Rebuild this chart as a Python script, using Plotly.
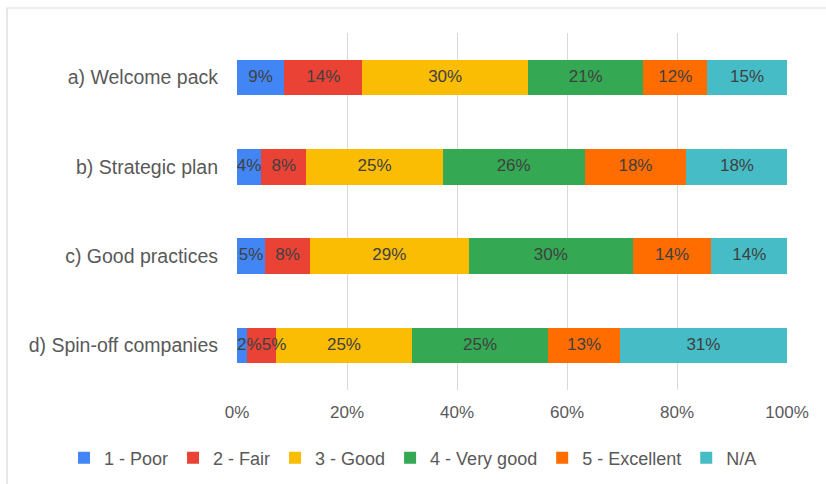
import numpy as np
import plotly.graph_objects as go

categories = ["a) Welcome pack", "b) Strategic plan", "c) Good practices", "d) Spin-off companies"]
series_names = ["1 - Poor", "2 - Fair", "3 - Good", "4 - Very good", "5 - Excellent", "N/A"]
colors = ["#4285F4", "#EA4335", "#FBBC04", "#34A853", "#FF6D01", "#46BDC6"]

poor = [8.6, 4.4, 5.1, 1.9]
fair = [14.2, 8.2, 8.2, 5.2]
good = [30.1, 24.8, 28.8, 24.7]
very_good = [21.0, 25.8, 29.9, 24.8]
excellent = [11.6, 18.5, 14.2, 13.0]
na = [14.5, 18.4, 13.9, 30.4]

poor_lbl = ["9%", "4%", "5%", "2%"]
fair_lbl = ["14%", "8%", "8%", "5%"]
good_lbl = ["30%", "25%", "29%", "25%"]
very_good_lbl = ["21%", "26%", "30%", "25%"]
excellent_lbl = ["12%", "18%", "14%", "13%"]
na_lbl = ["15%", "18%", "14%", "31%"]

values = [poor, fair, good, very_good, excellent, na]
labels = [poor_lbl, fair_lbl, good_lbl, very_good_lbl, excellent_lbl, na_lbl]

tick_vals = [0, 20, 40, 60, 80, 100]
tick_text = ["0%", "20%", "40%", "60%", "80%", "100%"]

FONT = "Liberation Sans, Arial, sans-serif"
W, H = 826, 484

fig = go.Figure()
for name, col, vals in zip(series_names, colors, values):
    fig.add_trace(go.Bar(
        y=categories, x=vals, name=name, orientation="h",
        marker=dict(color=col, line=dict(width=0)),
        hoverinfo="x+y+name",
    ))

# data labels drawn on top of all bars (so labels of narrow segments are not hidden)
arr = np.array(values)
starts = np.vstack([np.zeros(arr.shape[1]), np.cumsum(arr, axis=0)[:-1]])
mids = starts + arr / 2
for i, lbl in enumerate(labels):
    xs, pos = [], []
    for j, cat in enumerate(categories):
        narrow = arr[i, j] < 6 and cat.startswith("d)")
        if narrow and i == 0:
            xs.append(starts[i, j]); pos.append("middle right")
        elif narrow:
            xs.append(mids[i, j]); pos.append("middle right")
        else:
            xs.append(mids[i, j]); pos.append("middle center")
    fig.add_trace(go.Scatter(
        x=xs, y=categories, mode="text", text=lbl, textposition=pos,
        textfont=dict(color="#404040", size=17, family=FONT),
        showlegend=False, hoverinfo="skip",
    ))

fig.update_layout(
    barmode="stack",
    bargap=0.6,
    width=W, height=H,
    margin=dict(l=0, r=0, t=33, b=94, autoexpand=False),
    paper_bgcolor="white", plot_bgcolor="white",
    font=dict(family=FONT, color="#595959", size=17),
    xaxis=dict(domain=[237 / W, 787 / W], range=[0, 100], tickvals=tick_vals, ticktext=tick_text,
               showgrid=True, gridcolor="#d9d9d9", gridwidth=1,
               zeroline=False, showline=False, ticks="",
               tickfont=dict(size=17, color="#595959"), ticklabelstandoff=10),
    yaxis=dict(categoryorder="array", categoryarray=categories, autorange="reversed",
               showgrid=False, zeroline=False, showline=False, ticks="",
               tickfont=dict(size=19.5, color="#595959"), ticklabelstandoff=18),
    legend=dict(orientation="h", xref="container", yref="container",
                x=0.5, xanchor="center", y=26 / H, yanchor="middle",
                font=dict(size=18, color="#595959"), traceorder="normal",
                itemwidth=30, tracegroupgap=0),
    showlegend=True,
)

# outer chart frame (light border, partially cropped like the reference)
fig.add_shape(type="rect", xref="paper", yref="paper",
              x0=7 / W, x1=1.05,
              y0=-0.3, y1=(357 - (8 - 33)) / 357,
              line=dict(color="#d9d9d9", width=1.2), fillcolor="rgba(0,0,0,0)", layer="below")

fig.write_html("out.html")
